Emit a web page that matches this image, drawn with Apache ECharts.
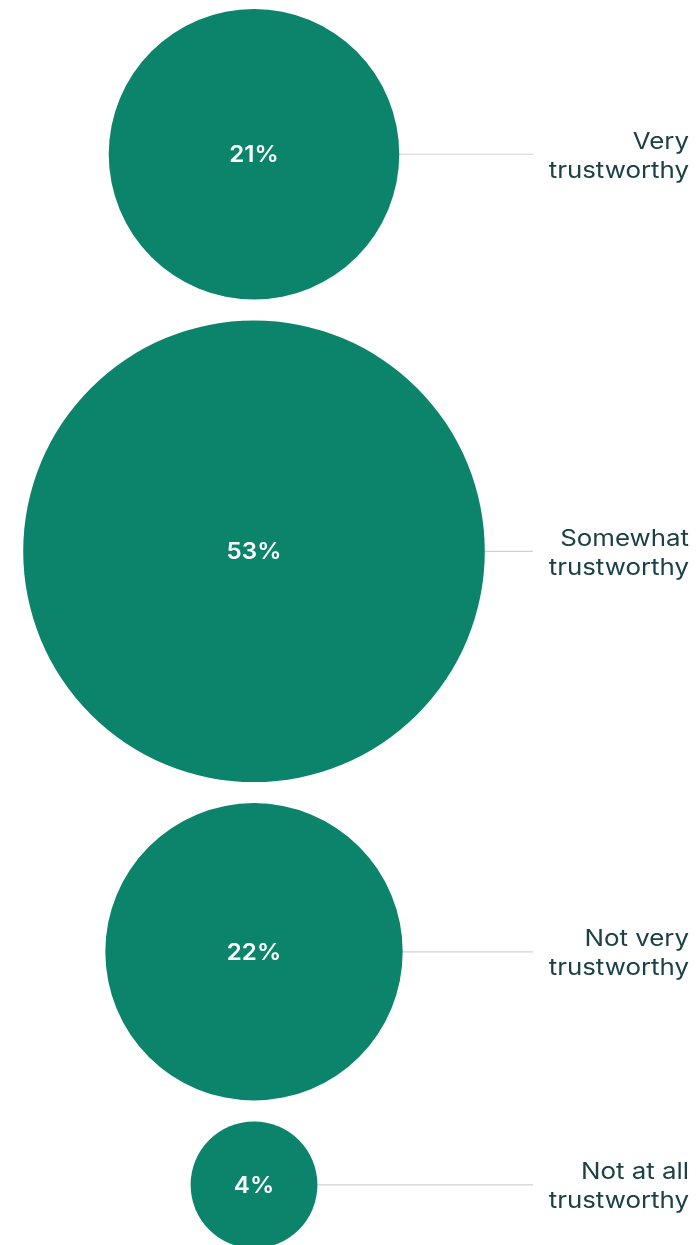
<!DOCTYPE html>
<html>
<head>
<meta charset="utf-8">
<script src="https://cdn.jsdelivr.net/npm/echarts@6/dist/echarts.min.js"></script>
<style>
html,body{margin:0;padding:0;background:#fff;}
#chart{width:699px;height:1245px;}
</style>
</head>
<body>
<div id="chart"></div>
<script>
const categories = ['Very\ntrustworthy', 'Somewhat\ntrustworthy', 'Not very\ntrustworthy', 'Not at all\ntrustworthy'];
const values = [21, 53, 22, 4];
const valueLabels = ['21%', '53%', '22%', '4%'];

const K = 31.7;      // radius per sqrt(percent)
const TOP = 9;
const GAP = 21;
const CX = 254;
const LINE_END = 533;
const LABEL_RIGHT = 689;

// layout derived from values
const radii = values.map(v => K * Math.sqrt(v));
const centers = [];
let acc = TOP;
radii.forEach(r => { centers.push(acc + r); acc += 2 * r + GAP; });

const chart = echarts.init(document.getElementById('chart'));
chart.setOption({
  animation: false,
  grid: {left: 0, right: 0, top: 0, bottom: 0},
  xAxis: {type: 'value', min: 0, max: 699, show: false},
  yAxis: {type: 'value', min: 0, max: 1245, inverse: true, show: false},
  series: [{
    type: 'custom',
    data: values.map((v, i) => [i, v]),
    renderItem: function (params, api) {
      const i = api.value(0);
      const r = radii[i];
      const c = api.coord([CX, centers[i]]);
      const e = api.coord([LINE_END, centers[i]]);
      const lx = api.coord([LABEL_RIGHT, centers[i]]);
      return {
        type: 'group',
        children: [
          {type: 'line', shape: {x1: c[0], y1: c[1], x2: e[0], y2: e[1]},
           style: {stroke: '#cfd2d2', lineWidth: 1.2}, z2: 1},
          {type: 'circle', shape: {cx: c[0], cy: c[1], r: r},
           style: {fill: '#0b846b'}, z2: 2},
          {type: 'text', x: c[0], y: c[1] + 1, z2: 3, scaleX: 1.05,
           style: {text: valueLabels[i], fill: '#ffffff', font: '600 23px Inter',
                   align: 'center', verticalAlign: 'middle'}},
          {type: 'text', x: lx[0], y: lx[1] + 2, z2: 3, scaleX: 1.15,
           style: {text: categories[i], fill: '#1b4147', font: '400 22.5px Inter',
                   lineHeight: 29, align: 'right', verticalAlign: 'middle'}}
        ]
      };
    }
  }]
});
</script>
</body>
</html>
